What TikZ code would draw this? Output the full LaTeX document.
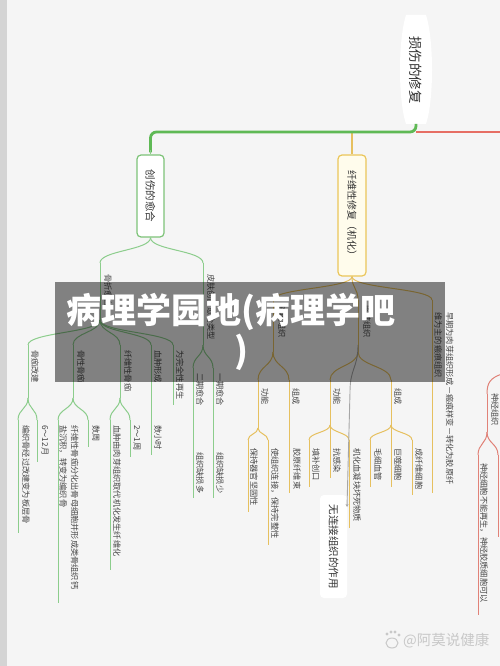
\documentclass[tikz,border=0pt]{standalone}
\usepackage{fontspec}
\newfontfamily\cjk{Noto Sans CJK SC}
\usetikzlibrary{calc,arrows.meta}
\definecolor{bgc}{RGB}{245,245,245}
\definecolor{stripc}{RGB}{212,212,212}
\definecolor{txtc}{RGB}{70,70,70}
\definecolor{txtd}{RGB}{50,50,50}
\definecolor{lgreen}{RGB}{140,205,140}
\definecolor{bgreen}{RGB}{125,195,120}
\definecolor{mgreen}{RGB}{95,185,85}
\definecolor{lgold}{RGB}{230,192,95}
\definecolor{bgold}{RGB}{235,198,90}
\definecolor{fgold}{RGB}{255,252,236}
\definecolor{lred}{RGB}{225,130,120}
\definecolor{mred}{RGB}{230,110,100}
\definecolor{wmc}{RGB}{200,200,200}
\newcommand\mtopic[8]{%
  \coordinate (#1-s) at (#3,#4);
  \coordinate (#1-e) at (#3,#5);
  \draw[#2] (#1-s) -- (#1-e);
  \node[lbl] (#1) at (#6,#7) {#8};}
\newcommand\lnk[3]{\draw[#1] (#2-e) .. controls ($(#2-e)!0.5!(#2-e |- #3-s)$) and ($(#3-s)!0.5!(#3-s |- #2-e)$) .. (#3-s);}
\begin{document}
\begin{tikzpicture}[x=1pt,y=-1pt,
  lbl/.style={rotate=-90,anchor=west,inner sep=0pt,font=\cjk\fontsize{8.2}{11.5}\selectfont,text=txtc,align=left},
  gl/.style={draw=lgreen,line width=1pt},
  yl/.style={draw=lgold,line width=1pt},
  rl/.style={draw=lred,line width=1pt},
  boxfont/.style={font=\cjk\fontsize{10.5}{12}\selectfont,text=txtd}]
\useasboundingbox (0,0) rectangle (500,666);
\fill[bgc] (0,0) rectangle (500,666);
\fill[stripc] (0,0) rectangle (7,666);

% root
\fill[white] (406,15) .. controls (398,40) and (398,100) .. (406,124) -- (426,124) .. controls (434,100) and (434,40) .. (426,15) -- cycle;
\node[rotate=-90,inner sep=0pt,font=\cjk\fontsize{13.5}{15}\selectfont,text=txtd] (root) at (416,70) {损伤的修复};
\coordinate (rootb) at (416,124);
\coordinate (hl) at (0,132);

% first-level boxes
\node[rotate=-90,draw=bgreen,line width=1.2pt,fill=white,rounded corners=4pt,minimum width=82pt,minimum height=27pt,inner sep=0pt,boxfont] (g) at (150.5,196) {创伤的愈合};
\node[rotate=-90,draw=bgold,line width=1.2pt,fill=fgold,rounded corners=4pt,minimum width=121pt,minimum height=28pt,inner sep=0pt,font=\cjk\fontsize{10}{12}\selectfont,text=txtd] (fx) at (352,215.5) {纤维性修复（机化）};
\coordinate (g-e) at (g.east);
\coordinate (fx-e) at (fx.east);

% main connectors
\draw[draw=lgold,line width=1.6pt] (fx.west |- hl) -- (fx.west);
\draw[draw=mgreen,line width=2.8pt,rounded corners=6pt] (rootb) -- (rootb |- hl) -- (g.west |- hl) -- ($(g.west)+(0,-2)$);
\draw[draw=lgreen,line width=1.6pt] ($(g.west)+(0,-4)$) -- (g.west);
\draw[draw=mred,line width=2.8pt] (rootb |- hl) -- (505,132);

% ---- green branch ----
\mtopic{gz}{gl}{100}{263}{320}{108}{274}{骨折愈合}
\mtopic{pf}{gl}{203}{263}{345}{211}{274}{皮肤创伤愈合类型}
\lnk{gl}{g}{gz}
\lnk{gl}{g}{pf}

\mtopic{sa}{gl}{28}{345}{398}{35}{350}{骨痂改建}
\mtopic{sb}{gl}{73}{345}{398}{81}{350}{骨性骨痂}
\mtopic{sc}{gl}{120}{345}{398}{128}{350}{纤维性骨痂}
\mtopic{sd}{gl}{151}{345}{398}{158}{350}{血肿形成}
\mtopic{se}{gl}{173}{345}{405}{180}{350}{为完全性再生}
\lnk{gl}{gz}{sa}
\lnk{gl}{gz}{sb}
\lnk{gl}{gz}{sc}
\lnk{gl}{gz}{sd}
\lnk{gl}{gz}{se}

\mtopic{ca}{gl}{18}{420}{533}{26}{425}{编织骨经过改建变为板层骨}
\mtopic{cb}{gl}{37}{420}{462}{45}{425}{6～12月}
\mtopic{cc}{gl}{58}{420}{603}{69}{425}{纤维性骨痂分化出骨母细胞并形成类骨组织钙\\盐沉积，转变为编织骨}
\mtopic{cd}{gl}{88}{420}{447}{96}{425}{数周}
\mtopic{ce}{gl}{110}{420}{570}{117}{425}{血肿由肉芽组织取代机化发生纤维化}
\mtopic{cf}{gl}{130}{420}{457}{137}{425}{2～1周}
\mtopic{cg}{gl}{151}{420}{455}{158}{425}{数小时}
\lnk{gl}{sa}{ca}
\lnk{gl}{sa}{cb}
\lnk{gl}{sb}{cc}
\lnk{gl}{sb}{cd}
\lnk{gl}{sc}{ce}
\lnk{gl}{sc}{cf}
\lnk{gl}{sd}{cg}

\mtopic{ea}{gl}{193}{368}{440}{200}{373}{二期愈合}
\mtopic{eb}{gl}{213}{368}{440}{220}{373}{一期愈合}
\lnk{gl}{pf}{ea}
\lnk{gl}{pf}{eb}
\mtopic{fa}{gl}{193}{440}{498}{200}{452}{组织缺损多}
\mtopic{fb}{gl}{213}{440}{498}{220}{452}{组织缺损少}
\lnk{gl}{ea}{fa}
\lnk{gl}{eb}{fb}

% ---- gold branch ----
\mtopic{bh}{yl}{273}{300}{352}{282}{305}{瘢痕组织}
\mtopic{ry}{yl}{358}{300}{352}{367}{305}{肉芽组织}
\mtopic{zq}{yl}{432}{300}{493}{444}{312}{早期为肉芽组织形成－瘢痕样变－转化为胶原纤\\维为主的瘢痕组织}
\lnk{yl}{fx}{bh}
\lnk{yl}{fx}{ry}
\lnk{yl}{fx}{zq}

\mtopic{ba}{yl}{258}{380}{428}{265}{388}{功能}
\mtopic{bb}{yl}{289}{380}{440}{296}{388}{组成}
\lnk{yl}{bh}{ba}
\lnk{yl}{bh}{bb}
\mtopic{bba}{yl}{289}{440}{493}{297}{448}{胶原纤维束}
\lnk{yl}{bb}{bba}
\mtopic{baa}{yl}{248}{440}{512}{254}{448}{保持器官坚固性}
\mtopic{bab}{yl}{268}{440}{545}{275}{448}{使组织连接，保持完整性}
\lnk{yl}{ba}{baa}
\lnk{yl}{ba}{bab}

\mtopic{ra}{yl}{330}{380}{425}{337}{388}{功能}
\mtopic{rb}{yl}{391}{380}{425}{398}{388}{组成}
\lnk{yl}{ry}{ra}
\lnk{yl}{ry}{rb}
\mtopic{raa}{yl}{309}{440}{487}{316}{448}{填补创口}
\mtopic{rab}{yl}{330}{440}{478}{337}{448}{抗感染}
\mtopic{rac}{yl}{349}{440}{528}{357}{448}{机化血凝块坏死物质}
\lnk{yl}{ra}{raa}
\lnk{yl}{ra}{rab}
\lnk{yl}{ra}{rac}
\mtopic{rba}{yl}{370}{440}{487}{378}{448}{毛细血管}
\mtopic{rbb}{yl}{391}{440}{487}{398}{448}{巨噬细胞}
\mtopic{rbc}{yl}{412}{440}{495}{419}{448}{成纤维细胞}
\lnk{yl}{rb}{rba}
\lnk{yl}{rb}{rbb}
\lnk{yl}{rb}{rbc}

% ---- callout ----
\node[rotate=-90,fill=white,rounded corners=4pt,minimum width=103pt,minimum height=27pt,inner sep=0pt,boxfont] (wl) at (333.5,546.5) {无连接组织的作用};
\coordinate (gst) at (358,345);
\coordinate (gend) at (347,507);
\draw[draw=gray!70,line width=0.9pt,-{Stealth[length=3pt,width=3pt]}] (gst) .. controls (358,368) and (350,368) .. (350,392) -- (gend);

% ---- red branch ----
\coordinate (rin) at (502,374);
\mtopic{sj}{rl}{487}{394}{432}{495}{393}{神经组织}
\draw[rl] (rin) .. controls (490,378) and (487,383) .. (sj-s);
\mtopic{sja}{rl}{478}{455}{615}{484}{463}{神经细胞不能再生，神经胶质细胞可以}
\coordinate (sjb-s) at (498,455);
\coordinate (sjb-e) at (498,537);
\lnk{rl}{sj}{sja}
\lnk{rl}{sj}{sjb}
\draw[rl] (sjb-s) -- (sjb-e);

% ---- watermark overlay ----
\fill[black,opacity=0.47] (55,282) rectangle (445,382);
\node[anchor=west,inner sep=0pt,text=white,font=\cjk\bfseries\fontsize{35}{40}\selectfont] (wm1) at (66,312) {病理学园地(病理学吧};
\node[inner sep=0pt,text=white,font=\cjk\bfseries\fontsize{35}{40}\selectfont] (wm2) at (241,352) {)};

% ---- bottom watermark ----
\draw[wmc,line width=1pt] (392,643) ellipse (6pt and 5pt);
\fill[wmc] (387,634) circle (1.6pt) (391,632) circle (1.6pt) (395,632) circle (1.6pt) (399,635) circle (1.6pt);
\node[anchor=west,inner sep=0pt,text=wmc,font=\cjk\fontsize{14.5}{16}\selectfont] (wm3) at (403,641) {@阿莫说健康};
\end{tikzpicture}
\end{document}
